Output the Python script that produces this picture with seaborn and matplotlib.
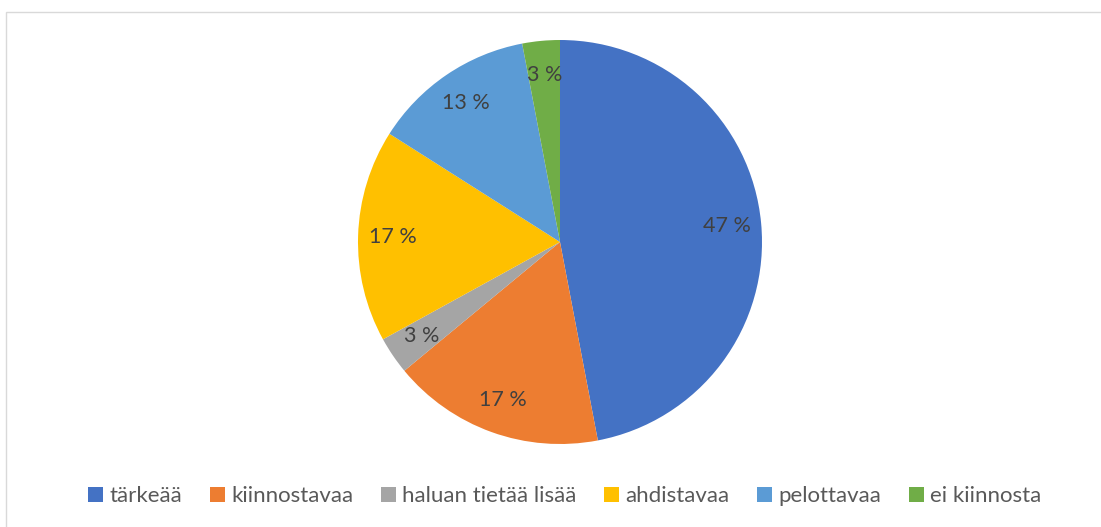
import matplotlib
matplotlib.use("Agg")
import matplotlib.pyplot as plt
import seaborn as sns
from matplotlib.patches import Rectangle

categories = ["tärkeää", "kiinnostavaa", "haluan tietää lisää", "ahdistavaa", "pelottavaa", "ei kiinnosta"]
values = [47, 17, 3, 17, 13, 3]
colors = ["#4472C4", "#ED7D31", "#A5A5A5", "#FFC000", "#5B9BD5", "#70AD47"]

sns.set_theme(style="white")
plt.rcParams["font.family"] = ["Lato", "DejaVu Sans"]
palette = sns.color_palette(colors)

W, H = 1101, 527
fig = plt.figure(figsize=(W / 100, H / 100), dpi=100)
fig.patch.set_facecolor("white")

# chart frame (top and left edges visible)
fig.patches.append(Rectangle((6 / W, -0.1), 1.2, 1 - 12 / H + 0.1, transform=fig.transFigure,
                             fill=False, edgecolor="#d9d9d9", linewidth=1.0))

cx, cy, R = 560, 242, 202
ax = fig.add_axes([(cx - R) / W, (H - cy - R) / H, 2 * R / W, 2 * R / H])
wedges, texts, autotexts = ax.pie(
    values, colors=palette, startangle=90, counterclock=False,
    autopct=lambda p: f"{p:.0f} %", pctdistance=0.83,
    wedgeprops=dict(linewidth=0), textprops=dict(fontsize=15.5, color="#404040"))
ax.set_aspect("equal")
ax.set_xlim(-1, 1)
ax.set_ylim(-1, 1)
ax.axis("off")

fig.legend(wedges, categories, loc="center", bbox_to_anchor=(565 / W, 1 - 496 / H),
           ncol=6, frameon=False, fontsize=16, labelcolor="#595959",
           handlelength=0.65, handleheight=0.65, handletextpad=0.3, columnspacing=1.25)

fig.savefig("out.png", dpi=100, facecolor="white")
